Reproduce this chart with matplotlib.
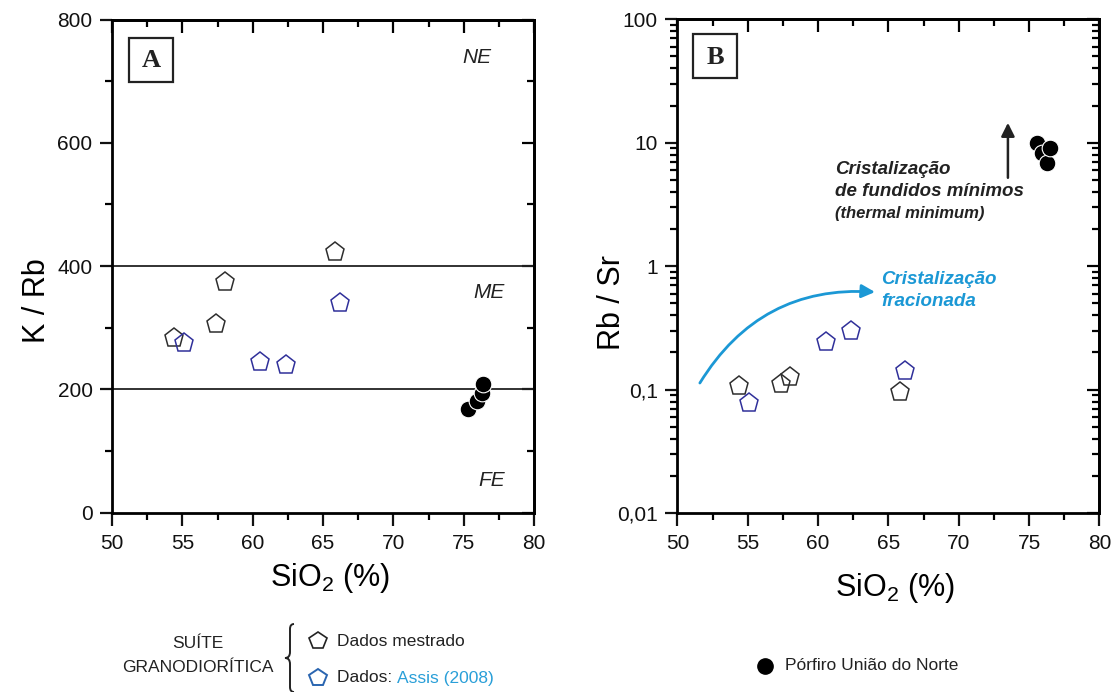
import matplotlib
matplotlib.use('Agg')
import matplotlib.pyplot as plt
from matplotlib.ticker import MultipleLocator, FixedLocator, FuncFormatter, LogLocator, NullFormatter
from matplotlib.patches import Rectangle, PathPatch
from matplotlib.path import Path
from matplotlib.lines import Line2D

plt.rcParams['font.family'] = ['Liberation Sans', 'DejaVu Sans']
plt.rcParams['mathtext.fontset'] = 'custom'
plt.rcParams['mathtext.rm'] = 'Liberation Sans'
plt.rcParams['mathtext.it'] = 'Liberation Sans:italic'
plt.rcParams['mathtext.default'] = 'regular'

# ---------------- data ----------------
sio2_mestrado = [54.4, 57.4, 58.0, 65.85]
k_rb_mestrado = [283, 306, 374, 423]
rb_sr_mestrado = [0.107, 0.110, 0.126, 0.096]

sio2_assis = [55.1, 60.55, 62.35, 66.2]
k_rb_assis = [275, 244, 240, 340]
rb_sr_assis = [0.078, 0.244, 0.30, 0.142]

sio2_porfiro_A = [75.28, 75.92, 76.27, 76.39]
k_rb_porfiro = [168, 181, 194, 209]
sio2_porfiro_B = [75.55, 75.9, 76.3, 76.5]
rb_sr_porfiro = [9.9, 8.3, 6.8, 9.0]

k_rb_limits = [200, 400]
x_ticks = [50, 55, 60, 65, 70, 75, 80]
yA_ticks = [0, 200, 400, 600, 800]
yB_ticks = [0.01, 0.1, 1, 10, 100]
yB_labels = ['0,01', '0,1', '1', '10', '100']

C_BLACK = '#2e2e2e'
C_BLUE = '#30309a'
C_CYAN = '#1b98d5'

fig = plt.figure(figsize=(11.17, 6.92), dpi=100)
axA = fig.add_axes([0.1003, 0.2591, 0.3778, 0.7127])
axB = fig.add_axes([0.6064, 0.2587, 0.3778, 0.7134])

MAJ_L, MIN_L, TW = 9, 5, 1.6


def style(ax, logy=False):
    for s in ax.spines.values():
        s.set_linewidth(2)
    ax.tick_params(which='major', direction='out', length=MAJ_L, width=TW,
                   labelsize=15, colors='#111')
    ax.tick_params(which='minor', direction='out', length=MIN_L, width=TW)
    ax.tick_params(axis='x', which='major', pad=6)
    ax.tick_params(axis='y', which='major', pad=5)
    ax.xaxis.set_major_locator(FixedLocator(x_ticks))
    ax.xaxis.set_minor_locator(MultipleLocator(2.5))
    secx = ax.secondary_xaxis('top')
    secx.xaxis.set_major_locator(FixedLocator(x_ticks))
    secx.xaxis.set_minor_locator(MultipleLocator(2.5))
    secx.tick_params(which='major', direction='in', length=MAJ_L, width=TW, labeltop=False)
    secx.tick_params(which='minor', direction='in', length=MIN_L, width=TW)
    secx.spines['top'].set_linewidth(2)
    secy = ax.secondary_yaxis('right')
    if logy:
        secy.yaxis.set_major_locator(LogLocator(base=10, numticks=10))
        secy.yaxis.set_minor_locator(LogLocator(base=10, subs=range(2, 10), numticks=20))
    else:
        secy.yaxis.set_major_locator(FixedLocator(yA_ticks))
        secy.yaxis.set_minor_locator(MultipleLocator(100))
    secy.tick_params(which='major', direction='in', length=MAJ_L, width=TW, labelright=False)
    secy.tick_params(which='minor', direction='in', length=MIN_L, width=TW)
    secy.yaxis.set_minor_formatter(NullFormatter())
    secy.spines['right'].set_linewidth(2)


def panel_box(ax, cx, cy, letter):
    w = 44 / 1117 / 0.3778
    h = 44 / 692 / 0.7130
    ax.add_patch(Rectangle((cx - w / 2, cy - h / 2), w, h, transform=ax.transAxes,
                           fill=False, lw=1.6, ec='#222', zorder=5))
    ax.text(cx, cy - 0.002, letter, transform=ax.transAxes, ha='center', va='center',
            fontsize=19, fontweight='bold', family='Liberation Serif', color='#222')


# ---------------- Panel A ----------------
axA.set_xlim(50, 80)
axA.set_ylim(0, 800)
axA.yaxis.set_major_locator(FixedLocator(yA_ticks))
axA.yaxis.set_minor_locator(MultipleLocator(100))
style(axA)
for v in k_rb_limits:
    axA.axhline(v, color='#222', lw=1.3, zorder=1)
axA.plot(sio2_mestrado, k_rb_mestrado, 'p', ms=14, mfc='none', mec=C_BLACK, mew=1.1, zorder=3)
axA.plot(sio2_assis, k_rb_assis, 'p', ms=14, mfc='none', mec=C_BLUE, mew=1.1, zorder=3)
axA.plot(sio2_porfiro_A, k_rb_porfiro, 'o', ms=12, mfc='black', mec='white', mew=0.8, zorder=4)
axA.text(75.9, 739, 'NE', style='italic', fontsize=15, ha='center', va='center', color='#222')
axA.text(76.8, 358, 'ME', style='italic', fontsize=15, ha='center', va='center', color='#222')
axA.text(77.0, 53, 'FE', style='italic', fontsize=15, ha='center', va='center', color='#222')
axA.set_ylabel('K / Rb', fontsize=22, va='center')
axA.yaxis.set_label_coords(-0.178, 0.43)
axA.set_xlabel('SiO$_2$ (%)', fontsize=22, va='center')
axA.xaxis.set_label_coords(0.517, -0.132)
panel_box(axA, 0.092, 0.918, 'A')

# ---------------- Panel B ----------------
axB.set_yscale('log')
axB.set_xlim(50, 80)
axB.set_ylim(0.01, 100)
axB.yaxis.set_major_locator(FixedLocator(yB_ticks))
axB.yaxis.set_major_formatter(FuncFormatter(lambda v, p: dict(zip(yB_ticks, yB_labels)).get(
    min(yB_ticks, key=lambda t: abs(t - v) / t), '')))
axB.yaxis.set_minor_locator(LogLocator(base=10, subs=range(2, 10), numticks=20))
axB.yaxis.set_minor_formatter(NullFormatter())
style(axB, logy=True)
axB.plot(sio2_mestrado, rb_sr_mestrado, 'p', ms=14, mfc='none', mec=C_BLACK, mew=1.1, zorder=3)
axB.plot(sio2_assis, rb_sr_assis, 'p', ms=14, mfc='none', mec=C_BLUE, mew=1.1, zorder=3)
axB.plot(sio2_porfiro_B, rb_sr_porfiro, 'o', ms=12, mfc='black', mec='white', mew=0.8, zorder=4)

axB.annotate('', xy=(64.05, 0.617), xytext=(51.6, 0.113),
             arrowprops=dict(arrowstyle='-|>', color=C_CYAN, lw=2,
                             connectionstyle='arc3,rad=-0.3', mutation_scale=20,
                             shrinkA=0, shrinkB=0))
axB.text(64.5, 0.773, 'Cristalização', color=C_CYAN, fontsize=13.5, fontweight='bold',
         style='italic', ha='left', va='center')
axB.text(64.5, 0.515, 'fracionada', color=C_CYAN, fontsize=13.5, fontweight='bold',
         style='italic', ha='left', va='center')

axB.annotate('', xy=(73.5, 14.5), xytext=(73.5, 5.2),
             arrowprops=dict(arrowstyle='-|>', color='#222', lw=1.8, mutation_scale=20,
                             shrinkA=0, shrinkB=0))
axB.text(61.2, 6.02, 'Cristalização', color='#222', fontsize=13.5, fontweight='bold',
         style='italic', ha='left', va='center')
axB.text(61.2, 4.02, 'de fundidos mínimos', color='#222', fontsize=13.5, fontweight='bold',
         style='italic', ha='left', va='center')
axB.text(61.2, 2.68, '(thermal minimum)', color='#222', fontsize=12, fontweight='bold',
         style='italic', ha='left', va='center')

axB.set_ylabel('Rb / Sr', fontsize=22, va='center')
axB.yaxis.set_label_coords(-0.155, 0.427)
axB.set_xlabel('SiO$_2$ (%)', fontsize=22, va='center')
axB.xaxis.set_label_coords(0.516, -0.152)
panel_box(axB, 0.090, 0.925, 'B')

# ---------------- Legend ----------------
W, H = 1117.0, 692.0


def fx(x):
    return x / W


def fy(y):
    return 1 - y / H


fig.text(fx(198), fy(643), 'SUÍTE', ha='center', va='center', fontsize=12.5, color='#222')
fig.text(fx(198), fy(668), 'GRANODIORÍTICA', ha='center', va='center', fontsize=12.5, color='#222')

# curly brace
bx, top, bot, mid = 290, 624, 692, 658
verts = [
    (bx + 4, top), (bx, top), (bx, top + 5),
    (bx, mid - 6),
    (bx, mid), (bx - 5, mid),
    (bx, mid), (bx, mid + 6),
    (bx, bot - 5),
    (bx, bot), (bx + 4, bot),
]
codes = [Path.MOVETO, Path.CURVE3, Path.CURVE3, Path.LINETO, Path.CURVE3, Path.CURVE3,
         Path.CURVE3, Path.CURVE3, Path.LINETO, Path.CURVE3, Path.CURVE3]
verts_f = [(fx(x), fy(y)) for x, y in verts]
fig.add_artist(PathPatch(Path(verts_f, codes), transform=fig.transFigure, fill=False,
                         lw=1.4, ec='#222'))

fig.add_artist(Line2D([fx(318)], [fy(641)], transform=fig.transFigure, marker='p', ms=13,
                      mfc='none', mec='#222', mew=1.2, ls='none'))
fig.text(fx(337), fy(641), 'Dados mestrado', ha='left', va='center', fontsize=12.5, color='#222')
fig.add_artist(Line2D([fx(318)], [fy(678)], transform=fig.transFigure, marker='p', ms=13,
                      mfc='none', mec='#2a65b0', mew=1.4, ls='none'))
t1 = fig.text(fx(337), fy(678), 'Dados: ', ha='left', va='center', fontsize=12.5, color='#222')
fig.canvas.draw()
bb = t1.get_window_extent()
fig.text(bb.x1 / (W), fy(678), 'Assis (2008)', ha='left', va='center', fontsize=12.5,
         color='#2a9fd8')

fig.add_artist(Line2D([fx(765)], [fy(666)], transform=fig.transFigure, marker='o', ms=11,
                      mfc='black', mec='black', ls='none'))
fig.text(fx(785), fy(666), 'Pórfiro União do Norte', ha='left', va='center', fontsize=12.5,
         color='#222')

fig.savefig('out.png', dpi=100)
